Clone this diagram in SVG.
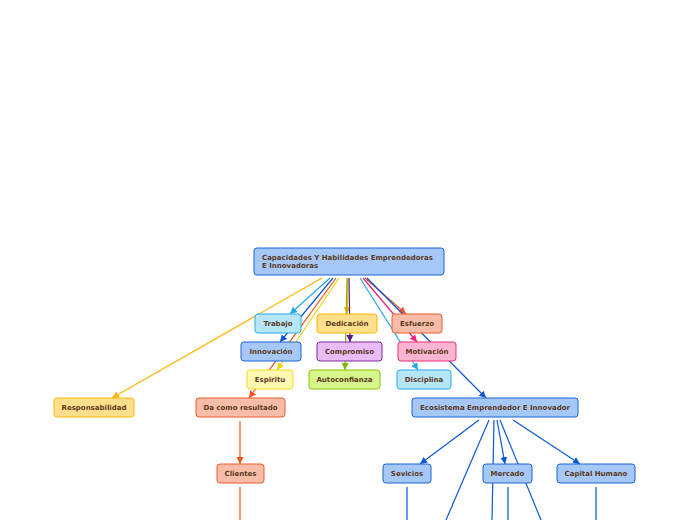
<svg xmlns="http://www.w3.org/2000/svg" width="696" height="520" viewBox="0 0 696 520">
<style>
text{font-family:"DejaVu Sans","Liberation Sans",sans-serif;font-weight:bold;font-size:7px;fill:#5b3a1c;}
.c{text-anchor:middle;}
rect{stroke-width:1;}
.blue rect{fill:#a6c8f8;stroke:#1a62d6;}
.cyan rect{fill:#b5e6fb;stroke:#2aaae6;}
.gold rect{fill:#ffdf8c;stroke:#f7b800;}
.salmon rect{fill:#f8bca8;stroke:#f05a2a;}
.purple rect{fill:#e9bbf7;stroke:#7b2a99;}
.pink rect{fill:#ffb4d2;stroke:#ee2a7b;}
.yellow rect{fill:#fff8b0;stroke:#eedd22;}
.green rect{fill:#d6f58c;stroke:#8ac400;}
#connectors path{fill:none;stroke-width:1.2;}
</style>
<defs>
<marker id="mBlue" markerWidth="8" markerHeight="8" refX="7" refY="4" orient="auto" markerUnits="userSpaceOnUse"><path d="M0,0.5 L7,4 L0,7.5 Z" fill="#0a58d6"/></marker>
<marker id="mCyan" markerWidth="8" markerHeight="8" refX="7" refY="4" orient="auto" markerUnits="userSpaceOnUse"><path d="M0,0.5 L7,4 L0,7.5 Z" fill="#1ea8e8"/></marker>
<marker id="mGold" markerWidth="8" markerHeight="8" refX="7" refY="4" orient="auto" markerUnits="userSpaceOnUse"><path d="M0,0.5 L7,4 L0,7.5 Z" fill="#ffb400"/></marker>
<marker id="mRed" markerWidth="8" markerHeight="8" refX="7" refY="4" orient="auto" markerUnits="userSpaceOnUse"><path d="M0,0.5 L7,4 L0,7.5 Z" fill="#f4511e"/></marker>
<marker id="mYellow" markerWidth="8" markerHeight="8" refX="7" refY="4" orient="auto" markerUnits="userSpaceOnUse"><path d="M0,0.5 L7,4 L0,7.5 Z" fill="#f0d400"/></marker>
<marker id="mPink" markerWidth="8" markerHeight="8" refX="7" refY="4" orient="auto" markerUnits="userSpaceOnUse"><path d="M0,0.5 L7,4 L0,7.5 Z" fill="#f0207a"/></marker>
<marker id="mPurple" markerWidth="8" markerHeight="8" refX="7" refY="4" orient="auto" markerUnits="userSpaceOnUse"><path d="M0,0.5 L7,4 L0,7.5 Z" fill="#5e1a8a"/></marker>
<marker id="mGreen" markerWidth="8" markerHeight="8" refX="7" refY="4" orient="auto" markerUnits="userSpaceOnUse"><path d="M0,0.5 L7,4 L0,7.5 Z" fill="#7cb800"/></marker>
</defs>
<g id="connectors">
<path d="M322,278 L112,398" stroke="#ffb400" marker-end="url(#mGold)"/>
<path d="M330,278 L290,314" stroke="#1ea8e8" marker-end="url(#mCyan)"/>
<path d="M333,278 L280,342" stroke="#0a58d6" marker-end="url(#mBlue)"/>
<path d="M336,278 L249,398" stroke="#f4511e" marker-end="url(#mRed)"/>
<path d="M339,278 L277,370" stroke="#f0d400" marker-end="url(#mYellow)"/>
<path d="M348,278 L347,314" stroke="#ffb400" marker-end="url(#mGold)"/>
<path d="M349,278 L350,342" stroke="#5e1a8a" marker-end="url(#mPurple)"/>
<path d="M347,278 L345,370" stroke="#7cb800" marker-end="url(#mGreen)"/>
<path d="M360,278 L418,370" stroke="#1ea8e8" marker-end="url(#mCyan)"/>
<path d="M363,278 L417,342" stroke="#f0207a" marker-end="url(#mPink)"/>
<path d="M365,278 L406,314" stroke="#f4511e" marker-end="url(#mRed)"/>
<path d="M367,278 L486,398" stroke="#0a58d6" marker-end="url(#mBlue)"/>
<path d="M240,421 L240,464" stroke="#f4511e" marker-end="url(#mRed)"/>
<path d="M240,487 L240,520" stroke="#f4511e"/>
<path d="M479,420 L420,464" stroke="#0a58d6" marker-end="url(#mBlue)"/>
<path d="M489,420 L446,520" stroke="#0a58d6"/>
<path d="M494,420 L492,520" stroke="#0a58d6"/>
<path d="M497,420 L505,464" stroke="#0a58d6" marker-end="url(#mBlue)"/>
<path d="M500,420 L541,520" stroke="#0a58d6"/>
<path d="M513,420 L580,464" stroke="#0a58d6" marker-end="url(#mBlue)"/>
<path d="M407,487 L407,520" stroke="#0a58d6"/>
<path d="M508,487 L508,520" stroke="#0a58d6"/>
<path d="M596,487 L596,520" stroke="#0a58d6"/>
</g>
<g id="root" class="blue"><rect x="254" y="248" width="190" height="27" rx="3"/><text x="262" y="260">Capacidades Y Habilidades Emprendedoras</text><text x="262" y="268">E Innovadoras</text></g>
<g id="trabajo" class="cyan"><rect x="255" y="314" width="46" height="19" rx="3"/><text class="c" x="278" y="326">Trabajo</text></g>
<g id="dedicacion" class="gold"><rect x="317" y="314" width="60" height="19" rx="3"/><text class="c" x="347" y="326">Dedicación</text></g>
<g id="esfuerzo" class="salmon"><rect x="392" y="314" width="50" height="19" rx="3"/><text class="c" x="417" y="326">Esfuerzo</text></g>
<g id="innovacion" class="blue"><rect x="241" y="342" width="60" height="19" rx="3"/><text class="c" x="271" y="354">Innovación</text></g>
<g id="compromiso" class="purple"><rect x="317" y="342" width="65" height="19" rx="3"/><text class="c" x="349.5" y="354">Compromiso</text></g>
<g id="motivacion" class="pink"><rect x="398" y="342" width="58" height="19" rx="3"/><text class="c" x="427" y="354">Motivación</text></g>
<g id="espiritu" class="yellow"><rect x="247" y="370" width="46" height="19" rx="3"/><text class="c" x="270" y="382">Espiritu</text></g>
<g id="autoconfianza" class="green"><rect x="309" y="370" width="71" height="19" rx="3"/><text class="c" x="344.5" y="382">Autoconfianza</text></g>
<g id="disciplina" class="cyan"><rect x="397" y="370" width="54" height="19" rx="3"/><text class="c" x="424" y="382">Disciplina</text></g>
<g id="responsabilidad" class="gold"><rect x="54" y="398" width="80" height="19" rx="3"/><text class="c" x="94" y="410">Responsabilidad</text></g>
<g id="dacomoresultado" class="salmon"><rect x="196" y="398" width="89" height="19" rx="3"/><text class="c" x="240.5" y="410">Da como resultado</text></g>
<g id="ecosistema" class="blue"><rect x="412" y="398" width="166" height="19" rx="3"/><text class="c" x="495" y="410">Ecosistema Emprendedor E Innovador</text></g>
<g id="clientes" class="salmon"><rect x="217" y="464" width="47" height="19" rx="3"/><text class="c" x="240.5" y="476">Clientes</text></g>
<g id="sevicios" class="blue"><rect x="383" y="464" width="48" height="19" rx="3"/><text class="c" x="407" y="476">Sevicios</text></g>
<g id="mercado" class="blue"><rect x="483" y="464" width="49" height="19" rx="3"/><text class="c" x="507.5" y="476">Mercado</text></g>
<g id="capitalhumano" class="blue"><rect x="557" y="464" width="78" height="19" rx="3"/><text class="c" x="596" y="476">Capital Humano</text></g>
</svg>
